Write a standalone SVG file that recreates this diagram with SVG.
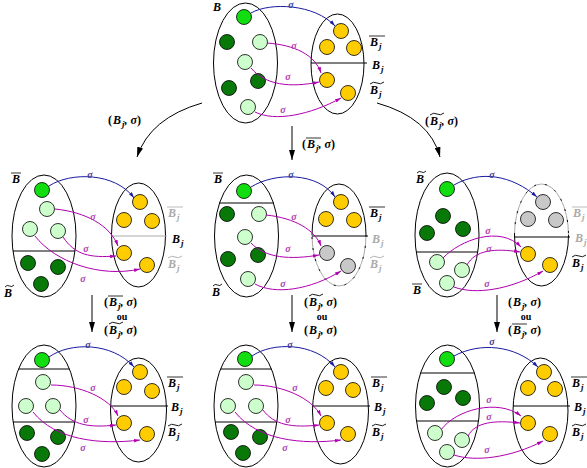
<svg xmlns="http://www.w3.org/2000/svg" width="587" height="468" viewBox="0 0 587 468">
<style>
.el{fill:none;stroke:#000;stroke-width:1}
.elg{fill:none;stroke:#aaa;stroke-width:1}
.dd{fill:none;stroke:#000;stroke-width:1;stroke-dasharray:2 9}
.sep{stroke:#000;stroke-width:1}
.sepg{stroke:#aaa;stroke-width:1}
circle{stroke:#000;stroke-width:0.8}
.a1{fill:#11dd11}.a2{fill:#087808}.a3{fill:#ccffcc}.yy{fill:#ffcc00}.gy{fill:#c8c8c8}
.bl{fill:none;stroke:#1a1aa0;stroke-width:1;marker-end:url(#mb)}
.pu{fill:none;stroke:#b000b0;stroke-width:1;marker-end:url(#mp)}
.sb{font:italic bold 10px "Liberation Serif",serif;fill:#3a3a9a;text-anchor:middle}
.sp{font:italic bold 10px "Liberation Serif",serif;fill:#b040b0;text-anchor:middle}
.m{font:italic bold 12px "Liberation Serif",serif;fill:#000}
.g{fill:#aaa}
.s{font-size:9px}
.up{font-style:normal}
.ol{stroke:#000;stroke-width:0.8}
.olg{stroke:#aaa;stroke-width:0.8}
.td{fill:none;stroke:#000;stroke-width:0.9}
.tdg{fill:none;stroke:#aaa;stroke-width:0.9}
.ou{font:bold 10px "Liberation Serif",serif;fill:#000;text-anchor:middle}
.mn{fill:none;stroke:#000;stroke-width:1;marker-end:url(#mk)}
</style>
<defs>
<marker id="mb" viewBox="0 0 10 6" refX="10" refY="3" markerWidth="6" markerHeight="4" orient="auto" markerUnits="userSpaceOnUse"><path d="M0,0L10,3L0,6z" fill="#1a1aa0"/></marker>
<marker id="mp" viewBox="0 0 10 6" refX="10" refY="3" markerWidth="6" markerHeight="4" orient="auto" markerUnits="userSpaceOnUse"><path d="M0,0L10,3L0,6z" fill="#b000b0"/></marker>
<marker id="mk" viewBox="0 0 10 6" refX="10" refY="3" markerWidth="10" markerHeight="6" orient="auto" markerUnits="userSpaceOnUse"><path d="M0,0L10,3L0,6z" fill="#000"/></marker>
<path id="tw" d="M0,1 Q3.5,-2 7,0 T14,-1"/>
<path id="tn" d="M0,1 Q2.2,-1.6 4.5,0 T9,-1"/>
</defs>
<rect width="587" height="468" fill="#fff"/>

<!-- top panel -->
<g id="p-top">
<ellipse class="el" cx="245.5" cy="63" rx="32" ry="60"/>
<ellipse class="el" cx="337.5" cy="64" rx="26.5" ry="50"/>
<line class="sep" x1="311" y1="63" x2="367" y2="63"/>
<circle class="a1" cx="244" cy="17" r="7.5"/><circle class="a2" cx="227" cy="42" r="7.5"/><circle class="a3" cx="260" cy="42" r="7.5"/><circle class="a3" cx="245" cy="62" r="7.5"/><circle class="a2" cx="258" cy="81" r="7.5"/><circle class="a2" cx="229" cy="88" r="7.5"/><circle class="a3" cx="248" cy="107" r="7.5"/>
<circle class="yy" cx="341" cy="31" r="7.5"/><circle class="yy" cx="327" cy="47" r="7.5"/><circle class="yy" cx="354" cy="48" r="7.5"/><circle class="yy" cx="327" cy="80" r="7.5"/><circle class="yy" cx="348" cy="93" r="7.5"/>
<path class="bl" d="M251,13 C270,2 315,4 335,26"/><text class="sb" x="291" y="8">σ</text>
<path class="pu" d="M267,43 C295,45 315,55 321,73"/><text class="sp" x="294" y="49">σ</text>
<path class="pu" d="M251,68 C265,85 290,88 319,82"/><text class="sp" x="288" y="80">σ</text>
<path class="pu" d="M255,112 C275,122 310,115 341,98"/><text class="sp" x="283" y="113">σ</text>
<text class="m" x="213" y="11">B</text>
<text class="m" x="370" y="46">B<tspan class="s" dx="1" dy="3">j</tspan></text><line class="ol" x1="369" y1="36" x2="385" y2="36"/>
<text class="m" x="372" y="69">B<tspan class="s" dx="1" dy="3">j</tspan></text>
<text class="m" x="370" y="94">B<tspan class="s" dx="1" dy="3">j</tspan></text><use href="#tw" class="td" x="370" y="83"/>
</g>

<!-- middle left -->
<g id="p-mid-left">
<ellipse class="el" cx="44" cy="236" rx="32" ry="61"/>
<line class="sep" x1="13" y1="251" x2="75" y2="251"/>
<ellipse class="el" cx="138.5" cy="235" rx="27" ry="52"/>
<line class="sepg" x1="111" y1="236" x2="167" y2="236"/>
<circle class="a1" cx="42" cy="190" r="7.5"/><circle class="a3" cx="47" cy="209" r="7.5"/><circle class="a3" cx="30" cy="229" r="7.5"/><circle class="a3" cx="58" cy="231" r="7.5"/><circle class="a2" cx="28" cy="263" r="7.5"/><circle class="a2" cx="58" cy="267" r="7.5"/><circle class="a2" cx="41" cy="284" r="7.5"/>
<circle class="yy" cx="140" cy="202" r="7.5"/><circle class="yy" cx="124" cy="220" r="7.5"/><circle class="yy" cx="152" cy="221" r="7.5"/><circle class="yy" cx="124" cy="253" r="7.5"/><circle class="yy" cx="147" cy="265" r="7.5"/>
<path class="bl" d="M49,186 C70,172 115,172 134,198"/><text class="sb" x="90" y="178">σ</text>
<path class="pu" d="M55,209 C85,212 110,225 118,246"/><text class="sp" x="93" y="220">σ</text>
<path class="pu" d="M63,237 C75,255 90,258 116,256"/><text class="sp" x="86" y="252">σ</text>
<path class="pu" d="M35,236 C55,262 100,278 140,269"/><text class="sp" x="83" y="282">σ</text>
<text class="m" x="12" y="183">B</text><line class="ol" x1="11" y1="173" x2="21" y2="173"/>
<text class="m" x="4" y="297">B</text><use href="#tn" class="td" x="5" y="286"/>
<text class="m g" x="168" y="217">B<tspan class="s" dx="1" dy="3">j</tspan></text><line class="olg" x1="167" y1="207" x2="183" y2="207"/>
<text class="m" x="172" y="243">B<tspan class="s" dx="1" dy="3">j</tspan></text>
<text class="m g" x="168" y="268">B<tspan class="s" dx="1" dy="3">j</tspan></text><use href="#tw" class="tdg" x="168" y="257"/>
</g>

<!-- middle center -->
<g id="p-mid-center">
<ellipse class="el" cx="246.5" cy="236" rx="32" ry="61"/>
<line class="sep" x1="219" y1="203" x2="274" y2="203"/>
<path class="el" d="M312,235 A27,51 0 0 1 366,235"/>
<path class="elg" d="M366,235 A27,51 0 0 1 312,235"/>
<path class="dd" d="M366,235 A27,51 0 0 1 312,235"/>
<line class="sep" x1="312" y1="236" x2="368" y2="236"/>
<circle class="a1" cx="244" cy="191" r="7.5"/><circle class="a2" cx="227" cy="214" r="7.5"/><circle class="a3" cx="259" cy="214" r="7.5"/><circle class="a3" cx="245" cy="237" r="7.5"/><circle class="a2" cx="258" cy="255" r="7.5"/><circle class="a2" cx="228" cy="259" r="7.5"/><circle class="a3" cx="248" cy="279" r="7.5"/>
<circle class="yy" cx="341" cy="202" r="7.5"/><circle class="yy" cx="326" cy="219" r="7.5"/><circle class="yy" cx="354" cy="220" r="7.5"/><circle class="gy" cx="327" cy="253" r="7.5"/><circle class="gy" cx="348" cy="266" r="7.5"/>
<path class="bl" d="M251,187 C275,172 318,172 335,197"/><text class="sb" x="291" y="178">σ</text>
<path class="pu" d="M266,215 C295,218 315,230 321,246"/><text class="sp" x="294" y="220">σ</text>
<path class="pu" d="M251,243 C265,258 290,260 319,255"/><text class="sp" x="288" y="252">σ</text>
<path class="pu" d="M255,284 C275,295 310,290 341,271"/><text class="sp" x="283" y="287">σ</text>
<text class="m" x="214" y="183">B</text><line class="ol" x1="213" y1="173" x2="223" y2="173"/>
<text class="m" x="212" y="296">B</text><use href="#tn" class="td" x="213" y="285"/>
<text class="m" x="370" y="217">B<tspan class="s" dx="1" dy="3">j</tspan></text><line class="ol" x1="369" y1="207" x2="385" y2="207"/>
<text class="m g" x="372" y="243">B<tspan class="s" dx="1" dy="3">j</tspan></text>
<text class="m g" x="370" y="268">B<tspan class="s" dx="1" dy="3">j</tspan></text><use href="#tw" class="tdg" x="370" y="257"/>
</g>

<!-- middle right -->
<g id="p-mid-right">
<ellipse class="el" cx="447" cy="235" rx="32" ry="62"/>
<line class="sep" x1="416" y1="252" x2="478" y2="252"/>
<path class="elg" d="M514.5,235 A27,51 0 0 1 568.5,235"/>
<path class="dd" d="M514.5,235 A27,51 0 0 1 568.5,235"/>
<path class="el" d="M568.5,235 A27,51 0 0 1 514.5,235"/>
<line class="sep" x1="514" y1="237" x2="570" y2="237"/>
<circle class="a1" cx="447" cy="189" r="7.5"/><circle class="a2" cx="443" cy="216" r="7.5"/><circle class="a2" cx="463" cy="229" r="7.5"/><circle class="a2" cx="427" cy="233" r="7.5"/><circle class="a3" cx="437" cy="262" r="7.5"/><circle class="a3" cx="462" cy="270" r="7.5"/><circle class="a3" cx="447" cy="283" r="7.5"/>
<circle class="gy" cx="543" cy="202" r="7.5"/><circle class="gy" cx="528" cy="219" r="7.5"/><circle class="gy" cx="556" cy="220" r="7.5"/><circle class="yy" cx="528" cy="254" r="7.5"/><circle class="yy" cx="550" cy="265" r="7.5"/>
<path class="bl" d="M454,185 C480,170 512,175 537,197"/><text class="sb" x="492" y="178">σ</text>
<path class="pu" d="M443,258 C460,240 500,225 521,247"/><text class="sp" x="488" y="234">σ</text>
<path class="pu" d="M467,265 C475,250 495,248 520,252"/><text class="sp" x="489" y="252">σ</text>
<path class="pu" d="M454,287 C475,295 510,290 543,271"/><text class="sp" x="487" y="287">σ</text>
<text class="m" x="416" y="183">B</text><use href="#tn" class="td" x="417" y="172"/>
<text class="m" x="413" y="294">B</text><line class="ol" x1="412" y1="284" x2="422" y2="284"/>
<text class="m g" x="573" y="217">B<tspan class="s" dx="1" dy="3">j</tspan></text><line class="olg" x1="572" y1="207" x2="587" y2="207"/>
<text class="m g" x="575" y="242">B<tspan class="s" dx="1" dy="3">j</tspan></text>
<text class="m" x="572" y="267">B<tspan class="s" dx="1" dy="3">j</tspan></text><use href="#tw" class="td" x="572" y="256"/>
</g>

<!-- bottom left -->
<g id="p-bot-left">
<ellipse class="el" cx="44" cy="406" rx="32" ry="61"/>
<line class="sep" x1="18.5" y1="369" x2="69.5" y2="369"/>
<line class="sep" x1="13" y1="422" x2="75" y2="422"/>
<ellipse class="el" cx="138.5" cy="410" rx="28" ry="52"/>
<line class="sep" x1="110" y1="406" x2="168" y2="406"/>
<circle class="a1" cx="42" cy="360" r="7.5"/><circle class="a3" cx="43" cy="382" r="7.5"/><circle class="a3" cx="26" cy="406" r="7.5"/><circle class="a3" cx="53" cy="406" r="7.5"/><circle class="a2" cx="27" cy="433" r="7.5"/><circle class="a2" cx="58" cy="437" r="7.5"/><circle class="a2" cx="42" cy="454" r="7.5"/>
<circle class="yy" cx="140" cy="372" r="7.5"/><circle class="yy" cx="124" cy="387" r="7.5"/><circle class="yy" cx="152" cy="391" r="7.5"/><circle class="yy" cx="124" cy="423" r="7.5"/><circle class="yy" cx="147" cy="434" r="7.5"/>
<path class="bl" d="M49,357 C70,342 112,342 134,367"/><text class="sb" x="88" y="348">σ</text>
<path class="pu" d="M51,385 C80,385 110,398 118,416"/><text class="sp" x="93" y="391">σ</text>
<path class="pu" d="M60,410 C72,425 90,428 116,425"/><text class="sp" x="86" y="423">σ</text>
<path class="pu" d="M33,412 C55,440 100,445 140,440"/><text class="sp" x="83" y="451">σ</text>
<text class="m" x="168" y="387">B<tspan class="s" dx="1" dy="3">j</tspan></text><line class="ol" x1="167" y1="377" x2="183" y2="377"/>
<text class="m" x="171" y="411">B<tspan class="s" dx="1" dy="3">j</tspan></text>
<text class="m" x="168" y="436">B<tspan class="s" dx="1" dy="3">j</tspan></text><use href="#tw" class="td" x="168" y="425"/>
</g>

<!-- bottom center -->
<g id="p-bot-center" transform="translate(202,0)">
<ellipse class="el" cx="44" cy="406" rx="32" ry="61"/>
<line class="sep" x1="18.5" y1="369" x2="69.5" y2="369"/>
<line class="sep" x1="13" y1="422" x2="75" y2="422"/>
<ellipse class="el" cx="138.5" cy="411" rx="28" ry="53"/>
<line class="sep" x1="110" y1="406" x2="168" y2="406"/>
<circle class="a1" cx="43" cy="359" r="7.5"/><circle class="a3" cx="44" cy="382" r="7.5"/><circle class="a3" cx="26" cy="406" r="7.5"/><circle class="a3" cx="54" cy="406" r="7.5"/><circle class="a2" cx="29" cy="432" r="7.5"/><circle class="a2" cx="58" cy="437" r="7.5"/><circle class="a2" cx="41" cy="453" r="7.5"/>
<circle class="yy" cx="139" cy="372" r="7.5"/><circle class="yy" cx="124" cy="388" r="7.5"/><circle class="yy" cx="151" cy="390" r="7.5"/><circle class="yy" cx="125" cy="423" r="7.5"/><circle class="yy" cx="146" cy="434" r="7.5"/>
<path class="bl" d="M50,356 C70,342 112,342 133,367"/><text class="sb" x="88" y="348">σ</text>
<path class="pu" d="M52,385 C80,385 110,398 119,416"/><text class="sp" x="93" y="391">σ</text>
<path class="pu" d="M61,410 C72,425 90,428 117,425"/><text class="sp" x="86" y="423">σ</text>
<path class="pu" d="M33,412 C55,440 100,445 139,440"/><text class="sp" x="83" y="451">σ</text>
<text class="m" x="170" y="387">B<tspan class="s" dx="1" dy="3">j</tspan></text><line class="ol" x1="169" y1="377" x2="185" y2="377"/>
<text class="m" x="172" y="411">B<tspan class="s" dx="1" dy="3">j</tspan></text>
<text class="m" x="170" y="436">B<tspan class="s" dx="1" dy="3">j</tspan></text><use href="#tw" class="td" x="170" y="425"/>
</g>

<!-- bottom right -->
<g id="p-bot-right">
<ellipse class="el" cx="447.5" cy="406" rx="32" ry="61"/>
<line class="sep" x1="420.5" y1="373" x2="474.5" y2="373"/>
<line class="sep" x1="416.5" y1="421" x2="478.5" y2="421"/>
<ellipse class="el" cx="540.5" cy="411" rx="27.5" ry="53"/>
<line class="sep" x1="513" y1="406" x2="570" y2="406"/>
<circle class="a1" cx="447" cy="359" r="7.5"/><circle class="a2" cx="444" cy="387" r="7.5"/><circle class="a2" cx="427" cy="403" r="7.5"/><circle class="a2" cx="463" cy="398" r="7.5"/><circle class="a3" cx="435" cy="433" r="7.5"/><circle class="a3" cx="462" cy="440" r="7.5"/><circle class="a3" cx="447" cy="452" r="7.5"/>
<circle class="yy" cx="544" cy="372" r="7.5"/><circle class="yy" cx="528" cy="388" r="7.5"/><circle class="yy" cx="555" cy="389" r="7.5"/><circle class="yy" cx="528" cy="423" r="7.5"/><circle class="yy" cx="550" cy="434" r="7.5"/>
<path class="bl" d="M454,356 C480,342 515,345 538,367"/><text class="sb" x="492" y="345">σ</text>
<path class="pu" d="M441,430 C455,410 498,398 521,416"/><text class="sp" x="489" y="403">σ</text>
<path class="pu" d="M468,436 C475,422 495,420 520,423"/><text class="sp" x="489" y="420">σ</text>
<path class="pu" d="M454,455 C475,462 510,458 543,441"/><text class="sp" x="487" y="453">σ</text>
<text class="m" x="572" y="387">B<tspan class="s" dx="1" dy="3">j</tspan></text><line class="ol" x1="571" y1="377" x2="587" y2="377"/>
<text class="m" x="574" y="411">B<tspan class="s" dx="1" dy="3">j</tspan></text>
<text class="m" x="572" y="436">B<tspan class="s" dx="1" dy="3">j</tspan></text><use href="#tw" class="td" x="572" y="425"/>
</g>

<!-- connectors -->
<g id="connectors">
<path class="mn" d="M202,103 Q150,118 137,157"/>
<path class="mn" d="M292,126 L292,160"/>
<path class="mn" d="M377,103 Q430,118 440,157"/>
<path class="mn" d="M92,295 L92,332"/>
<path class="mn" d="M292,295 L292,332"/>
<path class="mn" d="M497,295 L497,332"/>
</g>

<g id="edge-labels">
<text class="m" x="108" y="124"><tspan class="up">(</tspan><tspan dx="1">B</tspan><tspan class="s" dx="1" dy="3">j</tspan><tspan dy="-3">,</tspan><tspan dx="3">σ</tspan><tspan class="up">)</tspan></text>
<text class="m" x="302" y="148"><tspan class="up">(</tspan><tspan dx="1">B</tspan><tspan class="s" dx="1" dy="3">j</tspan><tspan dy="-3">,</tspan><tspan dx="3">σ</tspan><tspan class="up">)</tspan></text><line class="ol" x1="306" y1="138" x2="321" y2="138"/>
<text class="m" x="425" y="125"><tspan class="up">(</tspan><tspan dx="1">B</tspan><tspan class="s" dx="1" dy="3">j</tspan><tspan dy="-3">,</tspan><tspan dx="3">σ</tspan><tspan class="up">)</tspan></text><use href="#tw" class="td" x="430" y="114"/>

<text class="m" x="104" y="306"><tspan class="up">(</tspan><tspan dx="1">B</tspan><tspan class="s" dx="1" dy="3">j</tspan><tspan dy="-3">,</tspan><tspan dx="3">σ</tspan><tspan class="up">)</tspan></text><line class="ol" x1="108" y1="296" x2="123" y2="296"/>
<text class="ou" x="122" y="320">ou</text>
<text class="m" x="104" y="334"><tspan class="up">(</tspan><tspan dx="1">B</tspan><tspan class="s" dx="1" dy="3">j</tspan><tspan dy="-3">,</tspan><tspan dx="3">σ</tspan><tspan class="up">)</tspan></text><use href="#tw" class="td" x="109" y="323"/>

<text class="m" x="304" y="306"><tspan class="up">(</tspan><tspan dx="1">B</tspan><tspan class="s" dx="1" dy="3">j</tspan><tspan dy="-3">,</tspan><tspan dx="3">σ</tspan><tspan class="up">)</tspan></text><use href="#tw" class="td" x="309" y="295"/>
<text class="ou" x="322" y="320">ou</text>
<text class="m" x="304" y="334"><tspan class="up">(</tspan><tspan dx="1">B</tspan><tspan class="s" dx="1" dy="3">j</tspan><tspan dy="-3">,</tspan><tspan dx="3">σ</tspan><tspan class="up">)</tspan></text>

<text class="m" x="508" y="306"><tspan class="up">(</tspan><tspan dx="1">B</tspan><tspan class="s" dx="1" dy="3">j</tspan><tspan dy="-3">,</tspan><tspan dx="3">σ</tspan><tspan class="up">)</tspan></text>
<text class="ou" x="526" y="320">ou</text>
<text class="m" x="508" y="334"><tspan class="up">(</tspan><tspan dx="1">B</tspan><tspan class="s" dx="1" dy="3">j</tspan><tspan dy="-3">,</tspan><tspan dx="3">σ</tspan><tspan class="up">)</tspan></text><line class="ol" x1="512" y1="324" x2="527" y2="324"/>
</g>
</svg>
